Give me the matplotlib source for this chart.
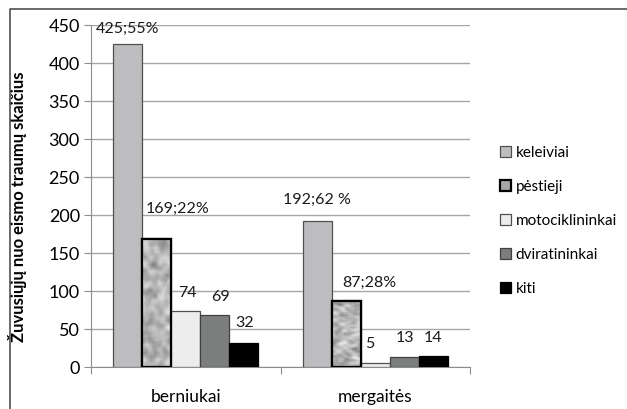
import matplotlib.pyplot as plt
import numpy as np

# deaths from road injuries by category, boys and girls
groups = ['berniukai', 'mergaitės']
types = ['keleiviai', 'pėstieji', 'motociklininkai', 'dviratininkai', 'kiti']
values = [[425, 192],
          [169, 87],
          [74, 5],
          [69, 13],
          [32, 14]]
labels = [['425;55%', '192;62 %'],
          ['169;22%', '87;28%'],
          ['74', '5'],
          ['69', '13'],
          ['32', '14']]

faces = ['#bdbdbf', '#a8a8a8', '#ededed', '#7c7e7e', '#000000']
edges = ['#505050', '#000000', '#505050', '#404040', '#000000']
lws = [0.9, 1.6, 0.9, 0.9, 0.9]
# label offsets in pixels (dx, dy) above each bar top
offs = [[(0, 15), (0, 21)],
        [(21, 30), (23, 18)],
        [(2, 18), (-5, 19)],
        [(6, 18), (1, 19)],
        [(1, 20), (0, 18)]]

plt.rcParams['font.family'] = ['Lato', 'DejaVu Sans']

fig = plt.figure(figsize=(6.27, 4.09), dpi=100)
ax = fig.add_axes([91/627, 1-367/409, 379/627, 342/409])

x = np.arange(len(groups))
w = 0.153
rng = np.random.default_rng(7)
for i in range(len(types)):
    pos = x + (i - 2) * w
    bars = ax.bar(pos, values[i], w, color=faces[i], edgecolor=edges[i],
                  linewidth=lws[i], label=types[i], zorder=3)
    if i == 1:
        # mottled texture for the pedestrians bars
        for b in bars:
            n = rng.random((60, 14))
            sm = np.zeros_like(n)
            for dy in range(-1, 2):
                for dx in range(-1, 2):
                    sm += np.roll(np.roll(n, dy, 0), dx, 1)
            sm = (sm - sm.min()) / (sm.max() - sm.min())
            img = ax.imshow(sm, cmap='gray', vmin=-0.9, vmax=1.1,
                            extent=[b.get_x(), b.get_x() + b.get_width(), 0, b.get_height()],
                            aspect='auto', zorder=3.5, interpolation='bicubic')
            img.set_clip_path(b)
            ax.bar(b.get_x() + b.get_width()/2, b.get_height(), w, color='none',
                   edgecolor='#000000', linewidth=1.6, zorder=4)
    for j in range(len(groups)):
        dx, dy = offs[i][j]
        ax.annotate(labels[i][j], (pos[j], values[i][j]), xytext=(dx*0.72, dy*0.72),
                    textcoords='offset points', ha='center', va='center',
                    fontsize=11.5, color='#1a1a1a', zorder=5)

ax.set_xlim(-0.5, 1.5)
ax.set_ylim(0, 450)
ax.set_yticks(np.arange(0, 451, 50))
ax.grid(axis='y', color='#a6a6a6', linewidth=1, zorder=0)
ax.set_xticks([-0.5, 0.5, 1.5])
ax.set_xticklabels([])
ax.set_xticks(x, minor=True)
ax.set_xticklabels(groups, minor=True, fontsize=12.5)
ax.tick_params(axis='x', which='minor', length=0, pad=16)
ax.tick_params(axis='x', which='major', length=5, color='#8c8c8c')
ax.tick_params(axis='y', length=5, color='#8c8c8c', labelsize=13, pad=3)
for s in ['top', 'right']:
    ax.spines[s].set_visible(False)
for s in ['left', 'bottom']:
    ax.spines[s].set_color('#8c8c8c')
ax.set_ylabel('Žuvusiųjų nuo eismo traumų skaičius', fontsize=12,
              fontweight='bold')
ax.yaxis.set_label_coords(-0.168, 0.47)

ax.legend(loc='center left', bbox_to_anchor=(494/627, 1-221/409),
          bbox_transform=fig.transFigure, frameon=False, fontsize=11,
          handlelength=0.72, handleheight=0.72, handletextpad=0.3,
          labelspacing=1.3, borderaxespad=0)

# outer frame (top and left edge)
fig.add_artist(plt.Line2D([10/627, 10/627, 1], [0, 1-9/409, 1-9/409],
                          transform=fig.transFigure, color='#505050', linewidth=1.2))

fig.savefig('out.png', dpi=100)
